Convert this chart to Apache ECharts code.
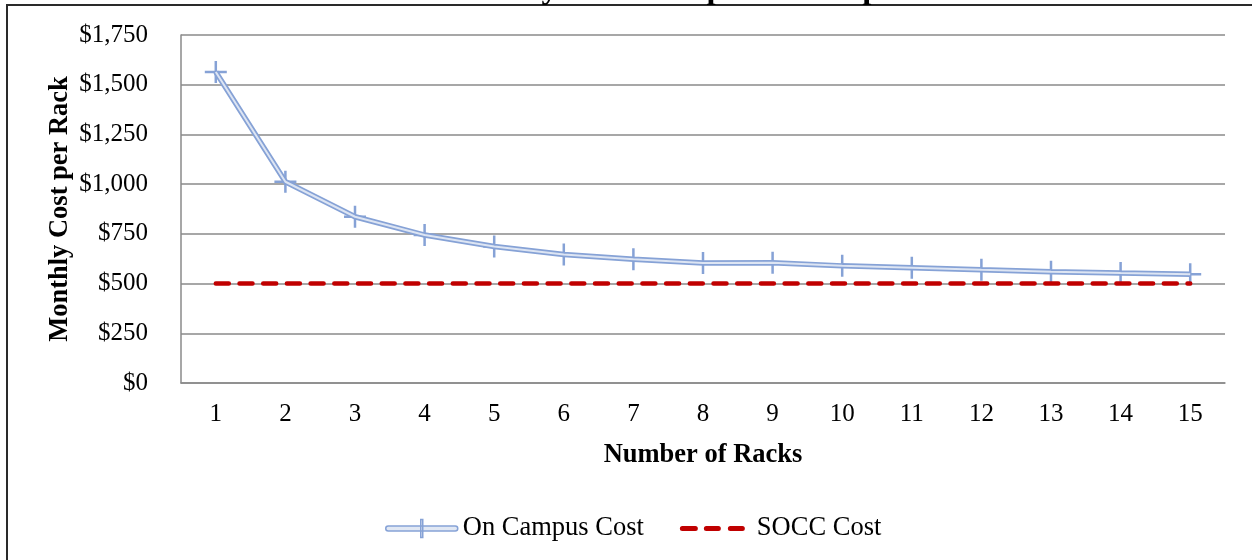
<!DOCTYPE html>
<html>
<head>
<meta charset="utf-8">
<script src="https://cdn.jsdelivr.net/npm/echarts@6/dist/echarts.min.js"></script>
<style>html,body{margin:0;padding:0;background:#fff}#chart{width:1252px;height:560px}</style>
</head>
<body>
<div id="chart"></div>
<script>
const titleText = 'Monthly Cost Comparison — per Rack';
const racks = ['1','2','3','4','5','6','7','8','9','10','11','12','13','14','15'];
const onCampusCost = [1564, 1012, 836, 744, 686, 646, 622, 603, 605, 589, 579, 569, 560, 553, 547];
const soccCost = [500, 500, 500, 500, 500, 500, 500, 500, 500, 500, 500, 500, 500, 500, 500];
const yTicks = [0, 250, 500, 750, 1000, 1250, 1500, 1750];
const legendNames = ['On Campus Cost', 'SOCC Cost'];

const FONT = "'Liberation Serif', 'Times New Roman', serif";
const BLUE = '#86A2D6';
const RED = '#C00000';
const crossPath = 'path://M9.75,0H12.25V22H9.75Z M0,9.75H22V12.25H0Z';
const campusIcon = 'path://M2.5,6.5H69.5A2.5,2.5,0,0,1,69.5,11.5H2.5A2.5,2.5,0,0,1,2.5,6.5Z M35,0H37V18H35Z';
const soccIcon = 'path://M2.5,6.5H15.5A2.5,2.5,0,0,1,15.5,11.5H2.5A2.5,2.5,0,0,1,2.5,6.5Z ' +
  'M26.5,6.5H38.5A2.5,2.5,0,0,1,38.5,11.5H26.5A2.5,2.5,0,0,1,26.5,6.5Z ' +
  'M50.5,6.5H62.5A2.5,2.5,0,0,1,62.5,11.5H50.5A2.5,2.5,0,0,1,50.5,6.5Z ' +
  'M71.9,0H72V0.1H71.9Z M71.9,17.9H72V18H71.9Z';

const chart = echarts.init(document.getElementById('chart'), null, {renderer: 'canvas'});
chart.setOption({
  backgroundColor: '#fff',
  animation: false,
  title: {
    text: titleText,
    left: 432,
    top: -32,
    textStyle: {fontFamily: FONT, fontSize: 33, fontWeight: 'bold', color: '#000'}
  },
  graphic: [{
    type: 'rect', silent: true, z: -1,
    shape: {x: 7, y: 5, width: 1400, height: 700},
    style: {fill: 'none', stroke: '#2a2a2a', lineWidth: 2}
  }],
  grid: {left: 181, right: 27, top: 35, bottom: 177, containLabel: false},
  legend: {
    data: [
      {name: legendNames[0], icon: campusIcon, itemStyle: {color: '#e1e8f4', borderColor: BLUE, borderWidth: 1.5}},
      {name: legendNames[1], icon: soccIcon, itemStyle: {color: RED, borderWidth: 0}}
    ],
    left: 380, top: 510,
    itemWidth: 72, itemHeight: 18, itemGap: 36,
    textStyle: {fontFamily: FONT, fontSize: 26.5, color: '#000'}
  },
  xAxis: {
    type: 'category',
    data: racks,
    boundaryGap: true,
    name: 'Number of Racks',
    nameLocation: 'middle',
    nameGap: 59,
    nameMoveOverlap: false,
    nameTextStyle: {fontFamily: FONT, fontSize: 26.5, fontWeight: 'bold', color: '#000'},
    axisLine: {show: true, lineStyle: {color: '#8a8a8a', width: 1.5}},
    axisTick: {show: false},
    axisLabel: {fontFamily: FONT, fontSize: 25, color: '#000', margin: 19}
  },
  yAxis: {
    type: 'value',
    min: 0, max: 1750, interval: 250,
    name: 'Monthly Cost per Rack',
    nameLocation: 'middle',
    nameGap: 107,
    nameMoveOverlap: false,
    nameTextStyle: {fontFamily: FONT, fontSize: 26.5, fontWeight: 'bold', color: '#000'},
    axisLine: {show: true, lineStyle: {color: '#8a8a8a', width: 1.5}},
    axisTick: {show: false},
    splitLine: {show: true, lineStyle: {color: '#8a8a8a', width: 1.5}},
    axisLabel: {
      fontFamily: FONT, fontSize: 25, color: '#000', margin: 33,
      formatter: v => yTicks.includes(v) ? '$' + v.toLocaleString('en-US') : ''
    }
  },
  series: [
    {
      name: legendNames[0],
      type: 'line',
      data: onCampusCost,
      symbol: crossPath,
      symbolSize: 22,
      itemStyle: {color: BLUE},
      lineStyle: {color: BLUE, width: 5.5},
      z: 3
    },
    {
      name: 'On Campus Cost (inner)',
      type: 'line',
      data: onCampusCost,
      symbol: 'none',
      lineStyle: {color: '#dde5f3', width: 2},
      silent: true,
      z: 4
    },
    {
      name: legendNames[1],
      type: 'line',
      data: soccCost,
      symbol: 'none',
      itemStyle: {color: RED},
      lineStyle: {color: RED, width: 4.5, type: [13, 10.7], cap: 'round'},
      z: 5
    }
  ]
});
</script>
</body>
</html>
